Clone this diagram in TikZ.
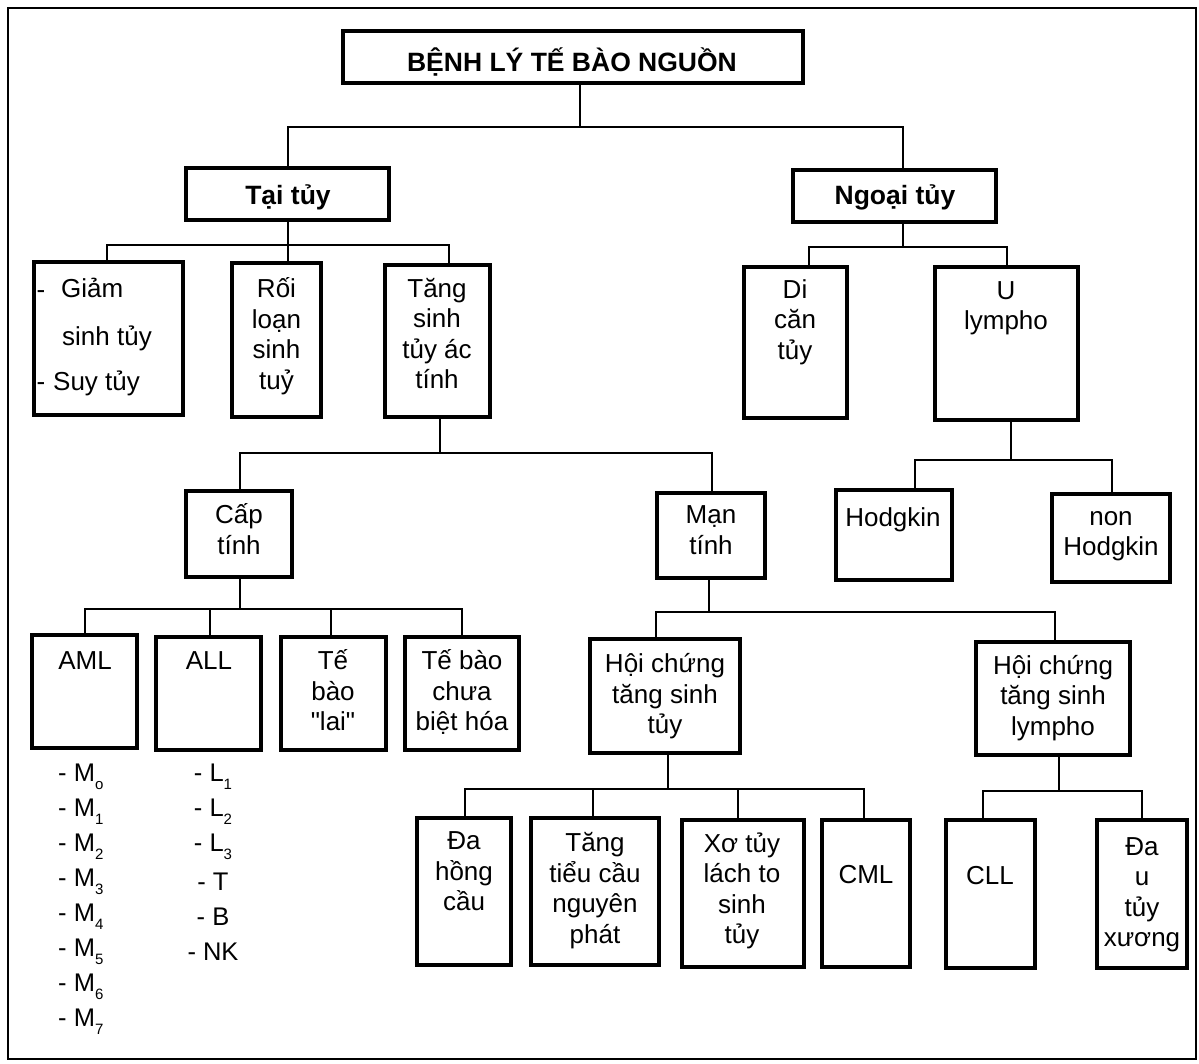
\documentclass[tikz,border=0pt]{standalone}
\usepackage{fontspec}
\setmainfont{Liberation Sans}
% same face without the TeX input mapping, for straight quotes
\newfontfamily\rawfont{Liberation Sans}
\usetikzlibrary{calc}
% small lowered index for the subtype lists
\newcommand\lowidx[1]{\raisebox{-0.3em}{\fontsize{15}{15}\selectfont #1}}
% box from its corners: name, x1, y1, x2, y2
\newcommand\bx[5]{\node[box, minimum width={#4-#2}, minimum height={#5-#3}] (#1) at ({(#2+#4)/2},{(#3+#5)/2}) {};}
\begin{document}
\begin{tikzpicture}[x=1pt,y=-1pt,
  box/.style={draw, line width=3.3pt, inner sep=0pt, outer sep=0pt},
  link/.style={line width=2pt},
  txt/.style={inner sep=0pt, align=center, font=\fontsize{26}{30.5}\selectfont,
    execute at begin node=\strut, execute at end node=\strut},
  head/.style={inner sep=0pt, font=\fontsize{26.5}{30}\selectfont\bfseries, anchor=base},
  lst/.style={inner sep=0pt, font=\fontsize{25.5}{30}\selectfont}]
\useasboundingbox (0,0) rectangle (1199,1064);
\draw[line width=1.8pt] (8,8) rectangle (1196,1059);

% ---- boxes ----
\bx{title}{343}{31}{803}{83}
\bx{tai}{186}{168}{389}{220}
\bx{ngoai}{793}{170}{996}{222}
\bx{giam}{34}{262}{183}{415}
\bx{roi}{232}{263}{321}{417}
\bx{tang}{385}{265}{490}{417}
\bx{di}{744}{267}{847}{418}
\bx{ul}{935}{267}{1078}{420}
\bx{cap}{186}{491}{292}{577}
\bx{man}{657}{493}{765}{578}
\bx{hod}{836}{490}{952}{580}
\bx{non}{1052}{494}{1170}{582}
\bx{aml}{32}{635}{137}{748}
\bx{all}{156}{637}{261}{750}
\bx{lai}{281}{637}{386}{750}
\bx{chua}{405}{637}{519}{750}
\bx{hct}{590}{639}{740}{753}
\bx{hcl}{976}{642}{1130}{755}
\bx{da}{417}{818}{511}{965}
\bx{ttc}{531}{818}{659}{965}
\bx{xo}{682}{820}{804}{967}
\bx{cml}{822}{820}{910}{967}
\bx{cll}{946}{820}{1035}{968}
\bx{dau}{1097}{820}{1187}{968}

% ---- texts ----
\node[head] (title-t) at (572,72) {BỆNH LÝ TẾ BÀO NGUỒN};
\node[head] (tai-t) at (288,205) {Tại tủy};
\node[head] (ngoai-t) at (895,205) {Ngoại tủy};
\node[txt, anchor=west] (giam-a) at (61,291) {Giảm};
\node[txt, anchor=west] (giam-b) at (62,339) {sinh tủy};
\node[txt, anchor=west] (giam-c) at (53,384) {Suy tủy};
\node[txt] (giam-d1) at (41,292) {-};
\node[txt] (giam-d2) at (41,384) {-};
\node[txt] (roi-t) at (276.5,338) {Rối\\loạn\\sinh\\tuỷ};
\node[txt] (tang-t) at (437,338) {Tăng\\sinh\\tủy ác\\tính};
\node[txt] (di-t) at (795,324) {Di\\căn\\tủy};
\node[txt] (ul-t) at (1006,310) {U\\lympho};
\node[txt] (cap-t) at (239,533.5) {Cấp\\tính};
\node[txt] (man-t) at (711,534.5) {Mạn\\tính};
\node[txt] (hod-t) at (893,520) {Hodgkin};
\node[txt] (non-t) at (1111,538) {non\\Hodgkin};
\node[txt] (aml-t) at (85,663) {AML};
\node[txt] (all-t) at (209,663) {ALL};
\node[txt] (lai-t) at (333,695) {Tế\\bào\\{\rawfont"}lai{\rawfont"}};
\node[txt] (chua-t) at (462,695) {Tế bào\\chưa\\biệt hóa};
\node[txt] (hct-t) at (665,698) {Hội chứng\\tăng sinh\\tủy};
\node[txt] (hcl-t) at (1053,699.5) {Hội chứng\\tăng sinh\\lympho};
\node[txt] (da-t) at (464,876) {Đa\\hồng\\cầu};
\node[txt] (ttc-t) at (595,892.5) {Tăng\\tiểu cầu\\nguyên\\phát};
\node[txt] (xo-t) at (742,892.5) {Xơ tủy\\lách to\\sinh\\tủy};
\node[txt] (cml-t) at (866,877) {CML};
\node[txt] (cll-t) at (990,878) {CLL};
\node[txt] (dau-t) at (1142,896.5) {Đa\\u\\tủy\\xương};

% AML subtypes
\foreach \s [count=\i from 0] in {o,1,2,3,4,5,6,7}
  \node[lst, anchor=west] (m\i) at (58,{777+35*\i}) {- M\lowidx{\s}};
% ALL subtypes
\node[lst] (l1) at (213,777) {- L\lowidx{1}};
\node[lst] (l2) at (213,812) {- L\lowidx{2}};
\node[lst] (l3) at (213,847) {- L\lowidx{3}};
\node[lst] (lt) at (213,882) {- T};
\node[lst] (lb) at (213,917) {- B};
\node[lst] (lnk) at (213,952) {- NK};

% ---- bus levels ----
\coordinate (busA) at (0,127);
\coordinate (busB) at (0,245);
\coordinate (busC) at (0,247);
\coordinate (busD) at (0,453);
\coordinate (busE) at (0,609);
\coordinate (busF) at (0,612);
\coordinate (busG) at (0,789);
\coordinate (busH) at (0,791);
\coordinate (busI) at (0,460);

% ---- attachment points ----
\coordinate (titleS) at ($(title.south)+(7,0)$);
\coordinate (taiN) at ($(tai.north)+(0.5,0)$);
\coordinate (ngoN) at ($(ngoai.north)+(8.5,0)$);
\coordinate (taiS) at ($(tai.south)+(0.5,0)$);
\coordinate (ngoS) at ($(ngoai.south)+(8.5,0)$);
\coordinate (giamN) at ($(giam.north)+(-1.5,0)$);
\coordinate (roiN) at ($(roi.north)+(11.5,0)$);
\coordinate (tangN) at ($(tang.north)+(11.5,0)$);
\coordinate (tangS) at ($(tang.south)+(2.5,0)$);
\coordinate (diN) at ($(di.north)+(13.5,0)$);
\coordinate (ulN) at (ul.north);
\coordinate (ulS) at ($(ul.south)+(4.5,0)$);
\coordinate (capN) at ($(cap.north)+(1,0)$);
\coordinate (capS) at ($(cap.south)+(1,0)$);
\coordinate (manN) at ($(man.north)+(1,0)$);
\coordinate (manS) at ($(man.south)+(-2,0)$);
\coordinate (hodN) at ($(hod.north)+(21,0)$);
\coordinate (nonN) at ($(non.north)+(1,0)$);
\coordinate (amlN) at (aml.north);
\coordinate (allN) at ($(all.north)+(1.5,0)$);
\coordinate (laiN) at ($(lai.north)+(-2.5,0)$);
\coordinate (chuaN) at (chua.north);
\coordinate (hctN) at ($(hct.north)+(-9,0)$);
\coordinate (hctS) at ($(hct.south)+(3,0)$);
\coordinate (hclN) at ($(hcl.north)+(2,0)$);
\coordinate (hclS) at ($(hcl.south)+(6,0)$);
\coordinate (daN) at ($(da.north)+(1,0)$);
\coordinate (ttcN) at ($(ttc.north)+(-2,0)$);
\coordinate (xoN) at ($(xo.north)+(-5,0)$);
\coordinate (cmlN) at ($(cml.north)+(-2,0)$);
\coordinate (cllN) at ($(cll.north)+(-7.5,0)$);
\coordinate (dauN) at (dau.north);

% ---- connectors ----
\draw[link] (titleS) -- (titleS |- busA);
\draw[link] (taiN) |- (busA -| ngoN) -- (ngoN);

\draw[link] (taiS) -- (taiS |- busB);
\draw[link] (giamN) |- (busB -| tangN) -- (tangN);
\draw[link] (roiN) -- (roiN |- busB);

\draw[link] (ngoS) -- (ngoS |- busC);
\draw[link] (diN) |- (busC -| ulN) -- (ulN);

\draw[link] (tangS) -- (tangS |- busD);
\draw[link] (capN) |- (busD -| manN) -- (manN);

\draw[link] (ulS) -- (ulS |- busI);
\draw[link] (hodN) |- (busI -| nonN) -- (nonN);

\draw[link] (capS) -- (capS |- busE);
\draw[link] (amlN) |- (busE -| chuaN) -- (chuaN);
\draw[link] (allN) -- (allN |- busE);
\draw[link] (laiN) -- (laiN |- busE);

\draw[link] (manS) -- (manS |- busF);
\draw[link] (hctN) |- (busF -| hclN) -- (hclN);

\draw[link] (hctS) -- (hctS |- busG);
\draw[link] (daN) |- (busG -| cmlN) -- (cmlN);
\draw[link] (ttcN) -- (ttcN |- busG);
\draw[link] (xoN) -- (xoN |- busG);

\draw[link] (hclS) -- (hclS |- busH);
\draw[link] (cllN) |- (busH -| dauN) -- (dauN);
\end{tikzpicture}
\end{document}
